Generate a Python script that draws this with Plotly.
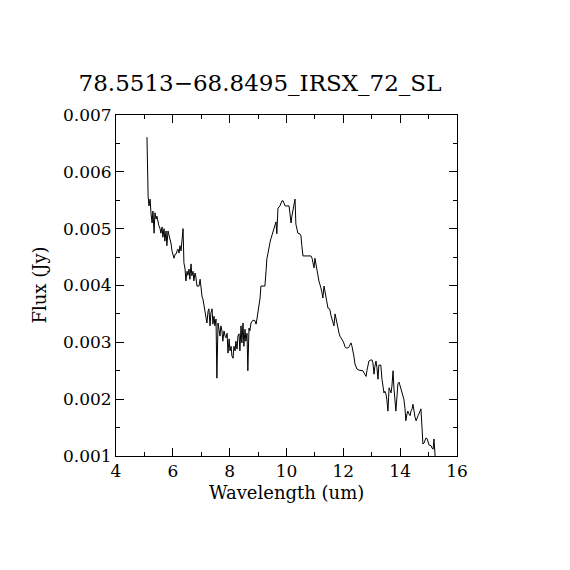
import plotly.graph_objects as go

# spectrum
wavelength = [
    5.09, 5.10, 5.13, 5.16, 5.20, 5.23, 5.27, 5.30, 5.34, 5.37, 5.41, 5.44, 5.48, 5.51, 5.55, 5.58,
    5.62, 5.65, 5.69, 5.72, 5.76, 5.79, 5.83, 5.86, 5.90, 5.94, 5.97, 6.01, 6.04, 6.08, 6.11, 6.15,
    6.18, 6.22, 6.25, 6.29, 6.32, 6.36, 6.39, 6.43, 6.46, 6.50, 6.53, 6.57, 6.60, 6.64, 6.67, 6.71,
    6.74, 6.78, 6.81, 6.85, 6.89, 6.92, 6.96, 6.99, 7.03, 7.06, 7.10, 7.13, 7.17, 7.20, 7.24, 7.27,
    7.31, 7.34, 7.38, 7.41, 7.45, 7.48, 7.52, 7.55, 7.59, 7.62, 7.66, 7.69, 7.73, 7.76, 7.80, 7.84,
    7.87, 7.91, 7.94, 7.98, 8.01, 8.05, 8.08, 8.12, 8.15, 8.19, 8.22, 8.26, 8.29, 8.33, 8.36, 8.40,
    8.43, 8.47, 8.50, 8.54, 8.57, 8.61, 8.64, 8.68, 8.71, 8.75, 8.82, 8.89, 8.93, 8.96, 9.00, 9.03,
    9.07, 9.10, 9.24, 9.28, 9.31, 9.35, 9.38, 9.42, 9.45, 9.49, 9.52, 9.56, 9.59, 9.63, 9.66, 9.70,
    9.77, 9.81, 9.84, 9.88, 9.91, 9.95, 10.09, 10.12, 10.16, 10.19, 10.23, 10.26, 10.30, 10.33, 10.37, 10.40,
    10.47, 10.51, 10.54, 10.58, 10.86, 10.90, 10.93, 10.97, 11.00, 11.04, 11.07, 11.11, 11.14, 11.18, 11.21, 11.25,
    11.28, 11.32, 11.35, 11.39, 11.42, 11.46, 11.49, 11.53, 11.56, 11.60, 11.64, 11.67, 11.71, 11.74, 11.78, 11.81,
    11.85, 11.88, 11.92, 11.95, 11.99, 12.03, 12.06, 12.10, 12.16, 12.20, 12.23, 12.27, 12.30, 12.34, 12.37, 12.41,
    12.44, 12.48, 12.55, 12.62, 12.69, 12.73, 12.76, 12.80, 12.83, 12.87, 12.90, 12.97, 13.01, 13.04, 13.08, 13.11,
    13.15, 13.18, 13.22, 13.25, 13.32, 13.36, 13.39, 13.43, 13.46, 13.50, 13.53, 13.57, 13.61, 13.64, 13.68, 13.71,
    13.75, 13.78, 13.82, 13.85, 13.89, 13.92, 13.96, 13.99, 14.03, 14.06, 14.10, 14.13, 14.17, 14.20, 14.24, 14.27,
    14.31, 14.35, 14.38, 14.42, 14.45, 14.49, 14.52, 14.56, 14.59, 14.63, 14.66, 14.70, 14.73, 14.77, 14.80, 14.84,
    14.87, 14.91, 14.95, 14.98, 15.02, 15.05, 15.09, 15.12, 15.16, 15.19, 15.23,
]
flux = [
    0.00661, 0.00584, 0.00557, 0.00540, 0.00552, 0.00528, 0.00510, 0.00531, 0.00492, 0.00528, 0.00517, 0.00522, 0.00510, 0.00505, 0.00500, 0.00492,
    0.00503, 0.00485, 0.00500, 0.00478, 0.00496, 0.00470, 0.00496, 0.00490, 0.00485, 0.00473, 0.00461, 0.00455, 0.00448, 0.00455, 0.00455, 0.00461,
    0.00464, 0.00457, 0.00470, 0.00461, 0.00475, 0.00500, 0.00440, 0.00429, 0.00408, 0.00425, 0.00418, 0.00429, 0.00411, 0.00438, 0.00417, 0.00425,
    0.00408, 0.00422, 0.00415, 0.00399, 0.00399, 0.00399, 0.00411, 0.00390, 0.00380, 0.00376, 0.00364, 0.00355, 0.00346, 0.00334, 0.00355, 0.00359,
    0.00329, 0.00352, 0.00359, 0.00332, 0.00346, 0.00329, 0.00341, 0.00237, 0.00334, 0.00323, 0.00311, 0.00329, 0.00320, 0.00302, 0.00320, 0.00311,
    0.00308, 0.00316, 0.00281, 0.00306, 0.00285, 0.00293, 0.00276, 0.00272, 0.00293, 0.00285, 0.00302, 0.00288, 0.00311, 0.00315, 0.00285, 0.00329,
    0.00299, 0.00334, 0.00293, 0.00323, 0.00302, 0.00316, 0.00250, 0.00325, 0.00320, 0.00334, 0.00339, 0.00338, 0.00332, 0.00341, 0.00352, 0.00360,
    0.00378, 0.00399, 0.00399, 0.00425, 0.00447, 0.00457, 0.00468, 0.00476, 0.00482, 0.00489, 0.00494, 0.00501, 0.00506, 0.00512, 0.00491, 0.00536,
    0.00540, 0.00545, 0.00549, 0.00549, 0.00543, 0.00540, 0.00540, 0.00528, 0.00510, 0.00522, 0.00535, 0.00545, 0.00552, 0.00508, 0.00500, 0.00492,
    0.00491, 0.00487, 0.00470, 0.00452, 0.00452, 0.00448, 0.00440, 0.00431, 0.00448, 0.00434, 0.00422, 0.00417, 0.00408, 0.00403, 0.00396, 0.00387,
    0.00378, 0.00399, 0.00390, 0.00385, 0.00373, 0.00360, 0.00360, 0.00357, 0.00348, 0.00341, 0.00334, 0.00329, 0.00350, 0.00341, 0.00329, 0.00323,
    0.00316, 0.00311, 0.00308, 0.00306, 0.00302, 0.00297, 0.00292, 0.00290, 0.00290, 0.00292, 0.00295, 0.00299, 0.00294, 0.00285, 0.00276, 0.00262,
    0.00257, 0.00253, 0.00251, 0.00250, 0.00250, 0.00246, 0.00243, 0.00240, 0.00250, 0.00260, 0.00267, 0.00269, 0.00269, 0.00264, 0.00244, 0.00258,
    0.00267, 0.00256, 0.00235, 0.00260, 0.00260, 0.00235, 0.00220, 0.00211, 0.00214, 0.00209, 0.00200, 0.00179, 0.00220, 0.00214, 0.00211, 0.00223,
    0.00250, 0.00220, 0.00200, 0.00179, 0.00206, 0.00227, 0.00230, 0.00225, 0.00220, 0.00211, 0.00206, 0.00200, 0.00183, 0.00162, 0.00174, 0.00179,
    0.00174, 0.00171, 0.00179, 0.00183, 0.00191, 0.00176, 0.00169, 0.00162, 0.00167, 0.00171, 0.00174, 0.00179, 0.00183, 0.00149, 0.00121, 0.00123,
    0.00126, 0.00132, 0.00130, 0.00123, 0.00119, 0.00119, 0.00118, 0.00114, 0.00112, 0.00130, 0.00100,
]

x_ticks = [4, 6, 8, 10, 12, 14, 16]
y_ticks = [0.001, 0.002, 0.003, 0.004, 0.005, 0.006, 0.007]

font_family = "DejaVu Serif"

fig = go.Figure()
fig.add_trace(go.Scatter(
    x=wavelength,
    y=flux,
    mode="lines",
    line=dict(color="black", width=1),
    showlegend=False,
))

# the page body adds about 7px on the left and top, so the margins are shifted
fig.update_layout(
    width=570,
    height=570,
    paper_bgcolor="white",
    plot_bgcolor="white",
    margin=dict(l=108, r=121, t=107, b=122),
    font=dict(family=font_family, color="black", size=17),
    title=dict(
        text="78.5513\u221268.8495_IRSX_72_SL",
        font=dict(family=font_family, size=23, color="black"),
        xref="container", x=252 / 570, xanchor="center",
        yref="container", y=1 - 75 / 570, yanchor="middle",
    ),
)

fig.update_xaxes(
    range=[4, 16],
    tickvals=x_ticks,
    ticktext=[str(t) for t in x_ticks],
    ticks="inside", ticklen=8, tickwidth=1, tickcolor="black",
    minor=dict(dtick=1, ticks="inside", ticklen=4, tickcolor="black"),
    showline=True, linecolor="black", linewidth=1, mirror="ticks",
    showgrid=False, zeroline=False,
    tickfont=dict(size=17),
)
fig.update_yaxes(
    range=[0.001, 0.007],
    tickvals=y_ticks,
    ticktext=["%.3f" % t for t in y_ticks],
    ticks="inside", ticklen=8, tickwidth=1, tickcolor="black",
    minor=dict(dtick=0.0005, ticks="inside", ticklen=4, tickcolor="black"),
    showline=True, linecolor="black", linewidth=1, mirror="ticks",
    showgrid=False, zeroline=False,
    tickfont=dict(size=17),
)

fig.add_annotation(
    text="Wavelength (um)", xref="paper", yref="paper",
    x=0.5, y=-37 / 341, xanchor="center", yanchor="middle",
    showarrow=False, font=dict(size=18),
)
fig.add_annotation(
    text="Flux (Jy)", xref="paper", yref="paper",
    x=-77 / 341, y=0.5, xanchor="center", yanchor="middle",
    textangle=-90, showarrow=False, font=dict(size=18),
)

fig.write_html("out.html")
